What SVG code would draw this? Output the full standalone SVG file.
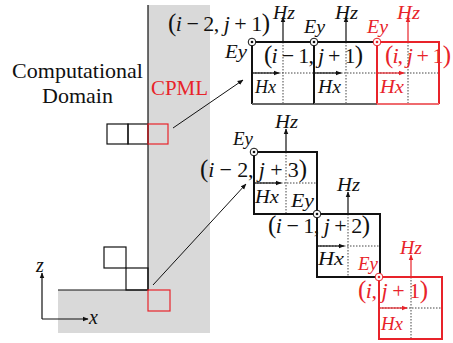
<svg xmlns="http://www.w3.org/2000/svg" width="453" height="343" viewBox="0 0 453 343" font-family="'Liberation Serif', 'Times New Roman', 'DejaVu Serif', serif">
<style>
text{font-family:'Liberation Serif','Times New Roman','DejaVu Serif',serif;}
.it{font-style:italic;}
.p{font-size:25px;}
.lab{font-size:19px;font-style:italic;fill:#111;}
.coord{font-size:22px;fill:#111;}
.red{fill:#e8232a;}
.cell{fill:none;stroke:#111;stroke-width:2;}
.rcell{fill:none;stroke:#e8232a;stroke-width:2;}
.dot{stroke:#444;stroke-width:1;stroke-dasharray:1.5 1.5;fill:none;}
.arr{stroke:#111;stroke-width:1.2;fill:none;marker-end:url(#ah);}
.rarr{stroke:#e8232a;stroke-width:1.2;fill:none;marker-end:url(#rah);}
.sq{fill:none;stroke:#111;stroke-width:1.2;}
.rsq{fill:none;stroke:#e8232a;stroke-width:1.2;}
.conn{stroke:#111;stroke-width:1;fill:none;marker-end:url(#ah);}
</style>
<defs>
<marker id="ah" viewBox="0 0 10 10" refX="9" refY="5" markerWidth="6" markerHeight="6" markerUnits="userSpaceOnUse" orient="auto"><path d="M0,1 L10,5 L0,9 z" fill="#111"/></marker>
<marker id="rah" viewBox="0 0 10 10" refX="9" refY="5" markerWidth="6" markerHeight="6" markerUnits="userSpaceOnUse" orient="auto"><path d="M0,1 L10,5 L0,9 z" fill="#e8232a"/></marker>
<g id="ey"><circle r="3.8" fill="#fff" stroke="#111" stroke-width="1"/><circle r="1.3" fill="#111"/></g>
<g id="eyr"><circle r="3.8" fill="#fff" stroke="#e8232a" stroke-width="1"/><circle r="1.3" fill="#e8232a"/></g>
</defs>

<g id="background">
<path d="M148,5 H210 V333 H58 V290 H148 Z" fill="#d9d9d9"/>
<path d="M148,5 V290 H58" fill="none" stroke="#111" stroke-width="1.2"/>
</g>

<g id="domain-labels">
<text x="77.5" y="78" font-size="22" text-anchor="middle" fill="#111">Computational</text>
<text x="77.5" y="103" font-size="22" text-anchor="middle" fill="#111">Domain</text>
<text x="151" y="95" font-size="20" class="red" textLength="57" lengthAdjust="spacingAndGlyphs">CPML</text>
</g>

<g id="upper-squares">
<rect class="sq" x="107" y="124" width="21" height="20"/>
<rect class="sq" x="128" y="124" width="20" height="20"/>
<rect class="rsq" x="148" y="124" width="20" height="20"/>
</g>

<g id="corner-squares">
<rect class="sq" x="104" y="247" width="22" height="21" stroke="#333"/>
<rect class="sq" x="126" y="268" width="22" height="22"/>
<rect class="rsq" x="148" y="290" width="22" height="21"/>
</g>

<g id="axes">
<line class="arr" x1="42" y1="319" x2="42" y2="273"/>
<line class="arr" x1="42" y1="319" x2="88" y2="319"/>
<text x="36" y="272" font-size="20" class="it" fill="#111">z</text>
<text x="89" y="324" font-size="20" class="it" fill="#111">x</text>
</g>

<g id="connectors">
<line class="conn" x1="173" y1="128" x2="243" y2="80"/>
<line class="conn" x1="153" y1="285" x2="246" y2="184"/>
</g>

<g id="top-cell-1">
<line class="dot" x1="252" y1="73" x2="314" y2="73"/>
<line class="dot" x1="283" y1="42" x2="283" y2="104"/>
<path class="cell" d="M252,104 V42 H314"/>
<line x1="252" y1="104" x2="314" y2="104" stroke="#666" stroke-width="2"/>
<line class="arr" x1="283" y1="42" x2="283" y2="17"/>
<line class="arr" x1="252" y1="73" x2="279" y2="73"/>
<use href="#ey" x="252" y="42"/>
<text class="lab" x="273" y="19" textLength="22" lengthAdjust="spacingAndGlyphs">Hz</text>
<text class="lab" x="225" y="58" textLength="22" lengthAdjust="spacingAndGlyphs">Ey</text>
<text class="lab" x="255" y="93" textLength="21" lengthAdjust="spacingAndGlyphs">Hx</text>
<text class="coord" x="168" y="31" textLength="102" lengthAdjust="spacing"><tspan class="p">(</tspan><tspan class="it">i</tspan> − 2, <tspan class="it">j</tspan> + 1<tspan class="p">)</tspan></text>
</g>

<g id="top-cell-2">
<line class="dot" x1="314" y1="73" x2="377" y2="73"/>
<line class="dot" x1="346" y1="42" x2="346" y2="104"/>
<path class="cell" d="M314,104 V42 H377"/>
<line x1="314" y1="104" x2="377" y2="104" stroke="#666" stroke-width="2"/>
<line class="arr" x1="346" y1="42" x2="346" y2="17"/>
<line class="arr" x1="314" y1="73" x2="341" y2="73"/>
<use href="#ey" x="314" y="42"/>
<text class="lab" x="335" y="19" textLength="23" lengthAdjust="spacingAndGlyphs">Hz</text>
<text class="lab" x="304" y="33" textLength="21" lengthAdjust="spacingAndGlyphs">Ey</text>
<text class="lab" x="318" y="93" textLength="23" lengthAdjust="spacingAndGlyphs">Hx</text>
<text class="coord" x="264" y="63" textLength="99" lengthAdjust="spacing"><tspan class="p">(</tspan><tspan class="it">i</tspan> − 1, <tspan class="it">j</tspan> + 1<tspan class="p">)</tspan></text>
</g>

<g id="top-cell-3">
<line class="dot" x1="377" y1="73" x2="439" y2="73" stroke="#e8232a"/>
<line class="dot" x1="408" y1="42" x2="408" y2="104" stroke="#e8232a"/>
<path class="rcell" d="M377,104 V42 H439 V104"/>
<line x1="377" y1="104" x2="439" y2="104" stroke="#ef6a6e" stroke-width="2"/>
<line class="rarr" x1="408" y1="42" x2="408" y2="17"/>
<line class="rarr" x1="377" y1="73" x2="404" y2="73"/>
<use href="#eyr" x="377" y="42"/>
<text class="lab red" x="397" y="19" textLength="23" lengthAdjust="spacingAndGlyphs">Hz</text>
<text class="lab red" x="367" y="33" textLength="21" lengthAdjust="spacingAndGlyphs">Ey</text>
<text class="lab red" x="380" y="93" textLength="24" lengthAdjust="spacingAndGlyphs">Hx</text>
<text class="coord red" x="385" y="63" textLength="66" lengthAdjust="spacing"><tspan class="p">(</tspan><tspan class="it">i</tspan>, <tspan class="it">j</tspan> + 1<tspan class="p">)</tspan></text>
</g>

<g id="bottom-cell-1">
<line class="dot" x1="254" y1="183" x2="317" y2="183"/>
<line class="dot" x1="286" y1="152" x2="286" y2="214"/>
<rect class="cell" x="254" y="152" width="63" height="62"/>
<line class="arr" x1="286" y1="152" x2="286" y2="129"/>
<line class="arr" x1="254" y1="183" x2="281" y2="183"/>
<use href="#ey" x="254" y="152"/>
<text class="lab" x="233" y="145" textLength="20" lengthAdjust="spacingAndGlyphs">Ey</text>
<text class="lab" x="275" y="128" textLength="23" lengthAdjust="spacingAndGlyphs">Hz</text>
<text class="lab" x="255" y="203" textLength="24" lengthAdjust="spacingAndGlyphs">Hx</text>
<text class="lab" x="291" y="207" textLength="23" lengthAdjust="spacingAndGlyphs">Ey</text>
<text class="coord" x="200" y="177" textLength="107" lengthAdjust="spacing"><tspan class="p">(</tspan><tspan class="it">i</tspan> − 2, <tspan class="it">j</tspan> + 3<tspan class="p">)</tspan></text>
</g>

<g id="bottom-cell-2">
<line class="dot" x1="317" y1="246" x2="380" y2="246"/>
<line class="dot" x1="348" y1="214" x2="348" y2="277"/>
<rect class="cell" x="317" y="214" width="63" height="63"/>
<line class="arr" x1="348" y1="214" x2="348" y2="192"/>
<line class="arr" x1="317" y1="246" x2="344" y2="246"/>
<use href="#ey" x="317" y="214"/>
<text class="lab" x="337" y="191" textLength="23" lengthAdjust="spacingAndGlyphs">Hz</text>
<text class="lab" x="318" y="265" textLength="26" lengthAdjust="spacingAndGlyphs">Hx</text>
<text class="coord" x="268" y="233" textLength="102" lengthAdjust="spacing"><tspan class="p">(</tspan><tspan class="it">i</tspan> − 1, <tspan class="it">j</tspan> + 2<tspan class="p">)</tspan></text>
</g>

<g id="bottom-cell-3">
<line class="dot" x1="379" y1="308" x2="442" y2="308"/>
<line class="dot" x1="411" y1="277" x2="411" y2="339"/>
<rect class="rcell" x="379" y="277" width="63" height="62"/>
<line class="rarr" x1="411" y1="277" x2="411" y2="255"/>
<line class="rarr" x1="379" y1="308" x2="407" y2="308"/>
<use href="#eyr" x="379" y="277"/>
<text class="lab red" x="358" y="270" textLength="20" lengthAdjust="spacingAndGlyphs">Ey</text>
<text class="lab red" x="400" y="254" textLength="22" lengthAdjust="spacingAndGlyphs">Hz</text>
<text class="lab red" x="381" y="330" textLength="22" lengthAdjust="spacingAndGlyphs">Hx</text>
<text class="coord red" x="358" y="298" textLength="70" lengthAdjust="spacing"><tspan class="p">(</tspan><tspan class="it">i</tspan>, <tspan class="it">j</tspan> + 1<tspan class="p">)</tspan></text>
</g>
</svg>
